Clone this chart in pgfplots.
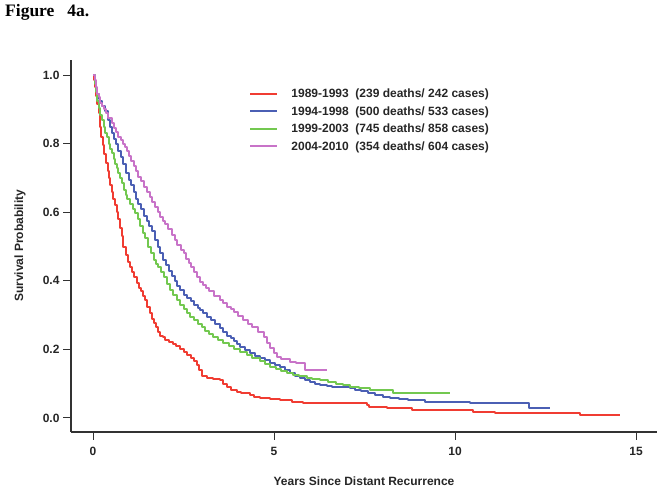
\documentclass[border=0pt]{standalone}
\usepackage{fontspec}
\setmainfont{Liberation Sans}
\newfontfamily\serifb{Liberation Serif}
\usepackage{pgfplots}
\pgfplotsset{compat=1.18}
\definecolor{cred}{RGB}{240,60,50}
\definecolor{cblue}{RGB}{75,95,180}
\definecolor{cgreen}{RGB}{115,200,80}
\definecolor{cmag}{RGB}{200,115,200}
\definecolor{caxis}{RGB}{50,50,50}
\begin{document}
\begin{tikzpicture}[x=1pt,y=1pt]
\useasboundingbox (0,0) rectangle (664,492);
\node[anchor=base west,inner sep=0pt,font=\serifb\bfseries\fontsize{17.5}{20}\selectfont] at (5,475) {Figure\hspace{13pt}4a.};
\begin{axis}[
  at={(71pt,60.3pt)}, anchor=south west,
  scale only axis, width=586pt, height=371.7pt,
  xmin=-0.61, xmax=15.58, ymin=-0.040, ymax=1.044,
  axis lines*=left,
  axis line style={line width=2pt, caxis},
  every tick/.style={line width=1pt, caxis},
  tick align=outside, major tick length=8pt,
  xtick={0,5,10,15}, ytick={0,0.2,0.4,0.6,0.8,1.0},
  minor tick num=0,
  /pgf/number format/assume math mode=true,
  ticklabel style={font=\bfseries\fontsize{12}{14}\selectfont, text=black!85},
  yticklabel style={/pgf/number format/fixed, /pgf/number format/fixed zerofill, /pgf/number format/precision=1},
  xticklabel style={/pgf/number format/fixed, /pgf/number format/precision=0, yshift=-4pt},
  xlabel={Years Since Distant Recurrence},
  ylabel={Survival Probability},
  label style={font=\bfseries\fontsize{12}{14}\selectfont, text=black!85},
  xlabel style={at={(axis description cs:0.5,-0.133)}, anchor=center},
  ylabel style={at={(axis description cs:-0.087,0.5)}, anchor=center},
  legend style={at={(axis description cs:0.3045,0.922)}, anchor=north west,
    draw=none, fill=none, inner sep=0pt, outer sep=0pt,
    font=\bfseries\fontsize{12}{14}\selectfont, text=black!85,
    nodes={inner sep=0pt, text height=9pt, text depth=3pt},
    row sep=5.5pt, column sep=13pt},
  legend cell align=left,
  legend image code/.code={\draw[line width=2pt,#1] (0pt,1pt) -- (27pt,1pt);},
  every axis plot/.append style={line width=2pt, const plot, line join=round},
]
\addplot[cred] coordinates {
(0,1.000) (0.03,0.985) (0.06,0.965) (0.09,0.94) (0.12,0.915) (0.15,0.89)
(0.19,0.85) (0.23,0.82) (0.27,0.795) (0.31,0.77) (0.35,0.745) (0.40,0.72)
(0.44,0.70) (0.48,0.68) (0.52,0.66) (0.56,0.64) (0.60,0.62) (0.65,0.60)
(0.70,0.58) (0.74,0.555) (0.79,0.53) (0.84,0.50) (0.90,0.475) (0.96,0.455)
(1.03,0.44) (1.08,0.425) (1.14,0.41) (1.20,0.395) (1.26,0.38) (1.32,0.37)
(1.38,0.355) (1.44,0.345) (1.50,0.325) (1.56,0.305) (1.62,0.29) (1.67,0.278)
(1.73,0.265) (1.80,0.25) (1.86,0.24) (1.92,0.235) (2.00,0.228) (2.10,0.222)
(2.20,0.215) (2.30,0.21) (2.40,0.202) (2.50,0.193) (2.60,0.185) (2.70,0.175)
(2.78,0.165) (2.86,0.155) (2.93,0.14) (3.00,0.122) (3.15,0.118) (3.30,0.115)
(3.51,0.111) (3.60,0.10) (3.70,0.09) (3.80,0.082) (3.97,0.077) (4.10,0.072)
(4.34,0.068) (4.45,0.062) (4.60,0.057) (4.90,0.055) (5.17,0.052) (5.50,0.047)
(5.81,0.043) (7.56,0.038) (7.61,0.031) (8.11,0.028) (8.80,0.023) (10.5,0.018)
(11.1,0.014) (13.45,0.008) (14.56,0.008)};
\addlegendentry{1989-1993\ \ (239 deaths/ 242 cases)}
\addplot[cblue] coordinates {
(0,1.0) (0.04,0.98) (0.08,0.96) (0.12,0.945) (0.16,0.93) (0.20,0.925)
(0.25,0.91) (0.33,0.895) (0.40,0.87) (0.46,0.85) (0.52,0.83) (0.58,0.815)
(0.64,0.80) (0.70,0.78) (0.77,0.76) (0.84,0.74) (0.91,0.715) (0.98,0.695)
(1.05,0.68) (1.12,0.66) (1.19,0.64) (1.25,0.625) (1.32,0.61) (1.40,0.59)
(1.48,0.575) (1.55,0.56) (1.62,0.545) (1.70,0.52) (1.78,0.50) (1.86,0.48)
(1.94,0.46) (2.02,0.445) (2.10,0.43) (2.18,0.415) (2.25,0.40) (2.33,0.385)
(2.40,0.373) (2.50,0.36) (2.60,0.35) (2.70,0.34) (2.80,0.33) (2.90,0.32)
(2.96,0.315) (3.05,0.305) (3.15,0.295) (3.25,0.285) (3.38,0.275) (3.51,0.263)
(3.60,0.25) (3.70,0.24) (3.80,0.232) (3.88,0.225) (3.97,0.215) (4.06,0.208)
(4.20,0.198) (4.34,0.19) (4.47,0.182) (4.61,0.174) (4.75,0.168) (4.90,0.16)
(5.03,0.155) (5.17,0.150) (5.30,0.14) (5.45,0.13) (5.58,0.122) (5.72,0.116)
(5.86,0.11) (6.00,0.105) (6.13,0.10) (6.27,0.096) (6.45,0.093) (6.60,0.091)
(6.85,0.089) (7.10,0.087) (7.25,0.082) (7.40,0.078) (7.60,0.072) (7.79,0.067)
(8.00,0.062) (8.20,0.057) (8.45,0.055) (8.70,0.052) (9.17,0.048) (10.41,0.043)
(12.05,0.029) (12.62,0.029)};
\addlegendentry{1994-1998\ \ (500 deaths/ 533 cases)}
\addplot[cgreen] coordinates {
(0,1.0) (0.04,0.975) (0.08,0.95) (0.12,0.925) (0.16,0.905) (0.20,0.885)
(0.24,0.869) (0.29,0.85) (0.34,0.83) (0.38,0.82) (0.43,0.80) (0.48,0.785)
(0.52,0.772) (0.57,0.755) (0.61,0.74) (0.65,0.73) (0.70,0.715) (0.75,0.70)
(0.79,0.684) (0.85,0.665) (0.90,0.65) (0.95,0.64) (1.02,0.625) (1.09,0.61)
(1.16,0.597) (1.23,0.58) (1.30,0.56) (1.37,0.54) (1.44,0.525) (1.52,0.50)
(1.60,0.48) (1.67,0.462) (1.74,0.45) (1.80,0.44) (1.88,0.425) (1.95,0.41)
(2.04,0.39) (2.13,0.373) (2.22,0.36) (2.31,0.345) (2.40,0.33) (2.50,0.317)
(2.59,0.305) (2.68,0.295) (2.78,0.285) (2.89,0.275) (3.00,0.265) (3.10,0.255)
(3.21,0.245) (3.32,0.237) (3.45,0.228) (3.60,0.22) (3.75,0.21) (3.90,0.20)
(4.05,0.192) (4.25,0.184) (4.40,0.175) (4.60,0.165) (4.75,0.157) (4.89,0.150)
(5.05,0.143) (5.20,0.137) (5.35,0.131) (5.53,0.125) (5.70,0.121) (5.90,0.118)
(6.05,0.115) (6.27,0.111) (6.50,0.105) (6.70,0.10) (6.90,0.095) (7.10,0.091)
(7.35,0.087) (7.65,0.082) (8.28,0.072) (9.86,0.072)};
\addlegendentry{1999-2003\ \ (745 deaths/ 858 cases)}
\addplot[cmag] coordinates {
(0,1.0) (0.04,0.985) (0.08,0.965) (0.12,0.945) (0.15,0.937) (0.20,0.92)
(0.25,0.91) (0.30,0.90) (0.35,0.89) (0.42,0.875) (0.52,0.859) (0.58,0.845)
(0.64,0.835) (0.70,0.82) (0.76,0.81) (0.82,0.80) (0.88,0.791) (0.94,0.78)
(1.00,0.765) (1.05,0.75) (1.12,0.735) (1.18,0.72) (1.25,0.704) (1.33,0.69)
(1.41,0.675) (1.50,0.66) (1.57,0.645) (1.64,0.63) (1.71,0.616) (1.78,0.60)
(1.86,0.585) (1.93,0.575) (2.00,0.565) (2.08,0.55) (2.17,0.535) (2.25,0.519)
(2.33,0.505) (2.42,0.49) (2.50,0.48) (2.57,0.465) (2.64,0.452) (2.70,0.441)
(2.78,0.425) (2.87,0.41) (2.96,0.397) (3.04,0.388) (3.12,0.378) (3.20,0.37)
(3.35,0.357) (3.51,0.344) (3.60,0.335) (3.70,0.325) (3.80,0.318) (3.88,0.31)
(4.00,0.298) (4.15,0.286) (4.28,0.275) (4.40,0.265) (4.55,0.252) (4.71,0.237)
(4.80,0.22) (4.90,0.205) (5.00,0.19) (5.07,0.179) (5.20,0.172) (5.44,0.164)
(5.62,0.16) (5.86,0.140) (6.46,0.140)};
\addlegendentry{2004-2010\ \ (354 deaths/ 604 cases)}
\end{axis}
\end{tikzpicture}
\end{document}
